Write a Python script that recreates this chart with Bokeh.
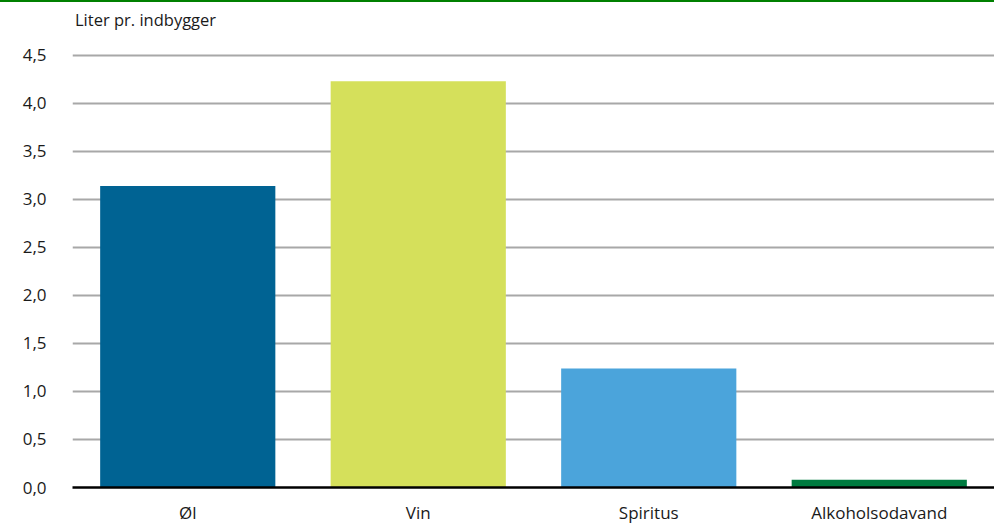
from bokeh.plotting import figure
from bokeh.models import ColumnDataSource, FactorRange, Range1d, FixedTicker, Div
from bokeh.layouts import column
from bokeh.embed import file_html
from bokeh.resources import INLINE

categories = ["Øl", "Vin", "Spiritus", "Alkoholsodavand"]
values = [3.14, 4.23, 1.24, 0.08]
colors = ["#006393", "#d5e05b", "#4ba4db", "#007b40"]
y_ticks = [0.0, 0.5, 1.0, 1.5, 2.0, 2.5, 3.0, 3.5, 4.0, 4.5]
y_tick_labels = ["0,0", "0,5", "1,0", "1,5", "2,0", "2,5", "3,0", "3,5", "4,0", "4,5"]
y_title = "Liter pr. indbygger"

FONT = "Open Sans"
TXT = "#1a1a1a"

src = ColumnDataSource(dict(cat=categories, val=values, col=colors))

header = Div(
    text=y_title, width=994, height=40,
    styles={
        "border-top": "2px solid #008000",
        "box-sizing": "border-box",
        "padding-top": "7px",
        "padding-left": "75px",
        "font-family": FONT,
        "font-size": "16.5px",
        "line-height": "22px",
        "color": TXT,
        "margin": "0",
    },
)

p = figure(
    x_range=FactorRange(*categories, range_padding=0),
    y_range=Range1d(0, 4.52),
    frame_width=922, frame_height=434,
    min_border_left=72, min_border_right=0, min_border_top=13, min_border_bottom=34,
    output_backend="svg", toolbar_location=None,
)

p.vbar(x="cat", top="val", bottom=0, width=0.76, color="col", source=src, line_width=0)

p.outline_line_color = None
p.xgrid.grid_line_color = None
p.ygrid.grid_line_color = "#a8a8a8"
p.ygrid.grid_line_width = 2

p.yaxis.ticker = FixedTicker(ticks=y_ticks)
p.yaxis.major_label_overrides = {t: l for t, l in zip(y_ticks, y_tick_labels)}
p.yaxis.axis_line_color = None
p.yaxis.major_tick_line_color = None
p.yaxis.minor_tick_line_color = None
p.yaxis.major_label_standoff = 20
p.yaxis.major_label_text_font = FONT
p.yaxis.major_label_text_font_size = "17px"
p.yaxis.major_label_text_color = TXT

p.xaxis.axis_line_color = "black"
p.xaxis.axis_line_width = 2.5
p.xaxis.major_tick_line_color = None
p.xaxis.minor_tick_line_color = None
p.xaxis.major_label_standoff = 7
p.xaxis.major_label_text_font = FONT
p.xaxis.major_label_text_font_size = "17px"
p.xaxis.major_label_text_color = TXT

layout = column(header, p, spacing=0)

open("out.html", "w").write(file_html(layout, INLINE))
